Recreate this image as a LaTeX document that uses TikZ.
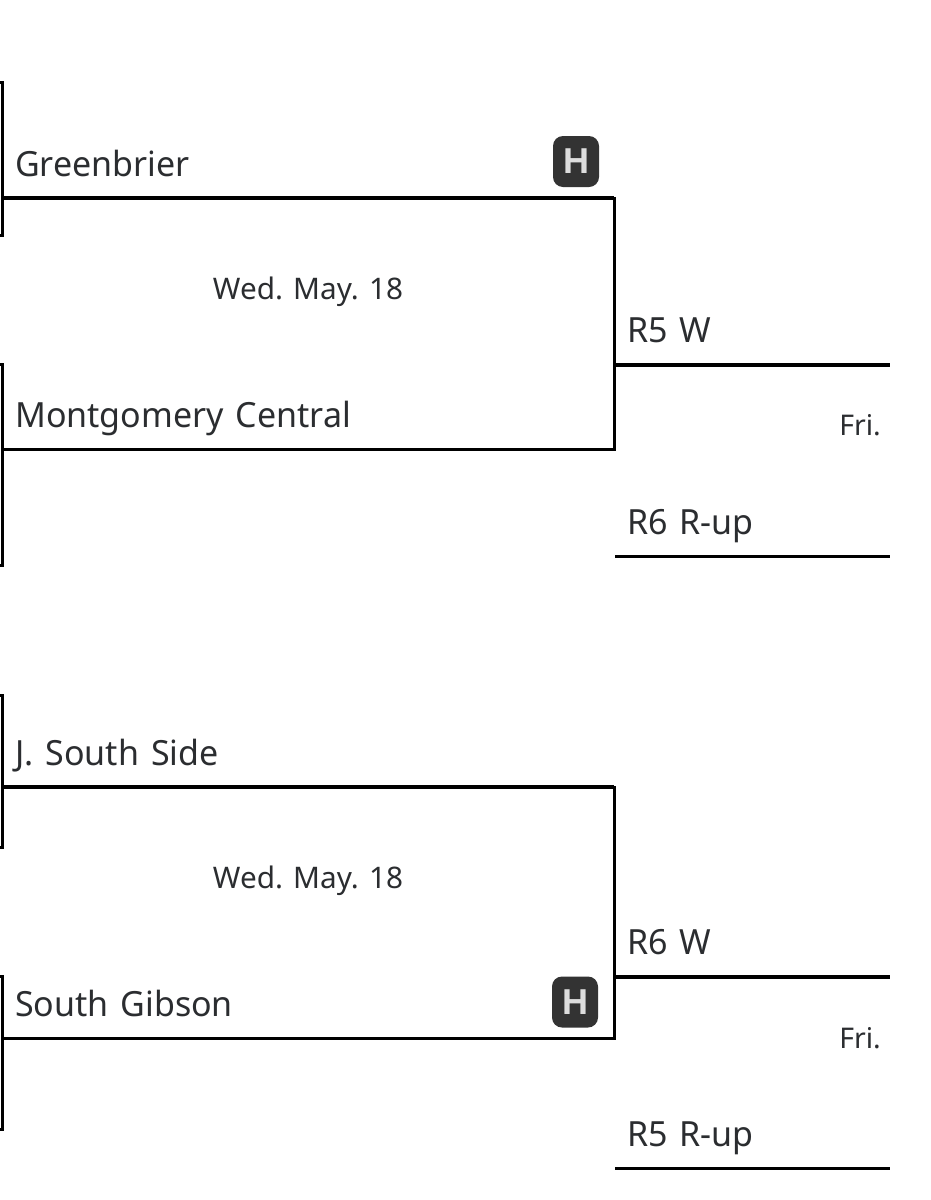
\documentclass[tikz,border=0pt]{standalone}
\usepackage{fontspec}
\setmainfont{Noto Sans}
\newfontfamily\teamfont{Noto Sans}[WordSpace=1.35,FakeStretch=0.98]
\newfontfamily\badgefont{Liberation Sans}
\definecolor{txt}{HTML}{2B2D30}
\definecolor{badge}{HTML}{333333}
\definecolor{badgetxt}{HTML}{DDDDDD}
\tikzset{
  x=1pt,y=-1pt,
  thickline/.style={draw=black,line width=3.4pt},
  thinline/.style={draw=black,line width=3pt},
  team/.style={anchor=base west,inner sep=0pt,text=txt,font=\teamfont\fontsize{34.7}{40}\selectfont},
  datelbl/.style={anchor=base,inner sep=0pt,text=txt,font=\fontsize{29.7}{36}\selectfont},
  frilbl/.style={anchor=base east,inner sep=0pt,text=txt,font=\fontsize{28.5}{34}\selectfont},
  homebadge/.style={fill=badge,rounded corners=10pt,minimum width=46pt,minimum height=51pt,inner sep=0pt,text=badgetxt,font=\badgefont\bfseries\fontsize{36}{38}\selectfont},
}
\begin{document}
\begin{tikzpicture}
\useasboundingbox (0,0) rectangle (930,1200);
\fill[white] (0,0) rectangle (930,1200);
% corner coordinates
\coordinate (a1) at (2,198); \coordinate (a2) at (614,198);
\coordinate (a3) at (614,449); \coordinate (a4) at (2,449);
\coordinate (b1) at (2,787); \coordinate (b2) at (614,787);
\coordinate (b3) at (614,1038); \coordinate (b4) at (2,1038);
\coordinate (s1t) at (0,82); \coordinate (s1c) at (2,82); \coordinate (s1b) at (2,235); \coordinate (s1e) at (0,235);
\coordinate (s2t) at (0,364); \coordinate (s2c) at (2,364); \coordinate (s2b) at (2,565); \coordinate (s2e) at (0,565);
\coordinate (s3t) at (0,695); \coordinate (s3c) at (2,695); \coordinate (s3b) at (2,847); \coordinate (s3e) at (0,847);
\coordinate (s4t) at (0,976); \coordinate (s4c) at (2,976); \coordinate (s4b) at (2,1129); \coordinate (s4e) at (0,1129);
\coordinate (r1a) at (615,365); \coordinate (r1b) at (890,365);
\coordinate (r2a) at (615,556); \coordinate (r2b) at (890,556);
\coordinate (r3a) at (615,977); \coordinate (r3b) at (890,977);
\coordinate (r4a) at (615,1168); \coordinate (r4b) at (890,1168);
% left stubs
\draw[thinline] (s1t) -- (s1c) -- (s1b) -- (s1e);
\draw[thinline] (s2t) -- (s2c) -- (s2b) -- (s2e);
\draw[thinline] (s3t) -- (s3c) -- (s3b) -- (s3e);
\draw[thinline] (s4t) -- (s4c) -- (s4b) -- (s4e);
% matchups
\draw[thickline] (a1) -- (a2);
\draw[thinline,line cap=rect] (a2) -- (a3) -- (a4);
\draw[thickline] (b1) -- (b2);
\draw[thinline,line cap=rect] (b2) -- (b3) -- (b4);
% right lines
\draw[thickline] (r1a) -- (r1b);
\draw[thinline] (r2a) -- (r2b);
\draw[thickline] (r3a) -- (r3b);
\draw[thinline] (r4a) -- (r4b);
% labels
\node[team] (t1) at (15,176) {Greenbrier};
\node[team] (t2) at (15,427) {Montgomery Central};
\node[team] (t3) at (15,765) {J. South Side};
\node[team] (t4) at (15,1016) {South Gibson};
\node[datelbl] (d1) at (308,299) {Wed. May. 18};
\node[datelbl] (d2) at (308,888) {Wed. May. 18};
\node[team] (w1) at (627,342) {R5 W};
\node[team] (w2) at (627,534) {R6 R-up};
\node[team] (w3) at (627,954) {R6 W};
\node[team] (w4) at (627,1146) {R5 R-up};
\node[frilbl] (f1) at (881,435) {Fri.};
\node[frilbl] (f2) at (881,1048) {Fri.};
\node[homebadge] (h1) at (576,161.5) {H};
\node[homebadge] (h2) at (575,1002) {H};
\end{tikzpicture}
\end{document}
